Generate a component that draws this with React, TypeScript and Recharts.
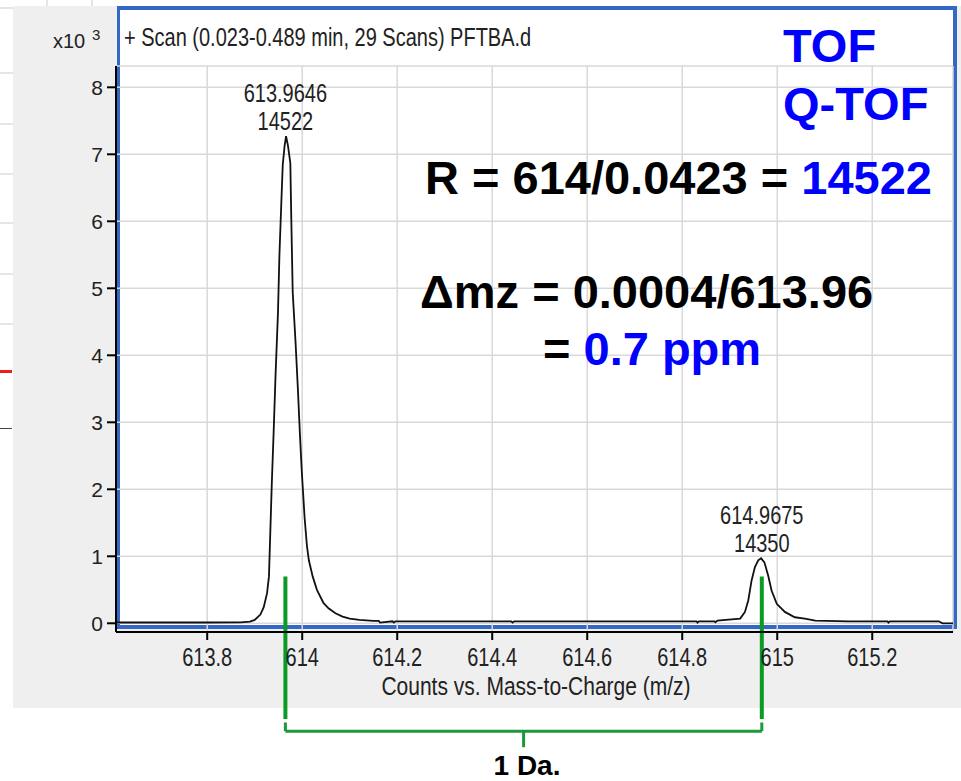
import React from 'react';
import { LineChart, Line, XAxis, YAxis, CartesianGrid, ReferenceLine, ReferenceDot } from 'recharts';

// profile spectrum, m/z vs counts (x10^3)
const mz = [
  613.608, 613.7, 613.8, 613.87, 613.89, 613.9, 613.912, 613.919, 613.926, 613.93,
  613.933, 613.936, 613.94, 613.944, 613.949, 613.952, 613.956, 613.959, 613.963, 613.966,
  613.97, 613.975, 613.977, 613.98, 613.986, 613.991, 613.995, 613.999, 614.005, 614.01,
  614.014, 614.022, 614.031, 614.045, 614.056, 614.07, 614.085, 614.1, 614.12, 614.15,
  614.161, 614.164, 614.19, 614.193, 614.196, 614.3, 614.44, 614.443, 614.446, 614.6,
  614.83, 614.832, 614.835, 614.868, 614.87, 614.874, 614.922, 614.932, 614.939, 614.946,
  614.953, 614.96, 614.966, 614.973, 614.981, 614.988, 614.999, 615.016, 615.037, 615.058,
  615.08, 615.15, 615.232, 615.234, 615.237, 615.34, 615.348, 615.37,
];
const countsK = [
  0.012, 0.012, 0.012, 0.013, 0.025, 0.05, 0.13, 0.24, 0.45, 0.7,
  1.4, 2.09, 2.88, 3.73, 4.64, 5.49, 6.27, 6.84, 7.13, 7.27,
  7.13, 6.87, 6.04, 4.94, 4.19, 3.48, 2.85, 2.28, 1.58, 1.15,
  0.94, 0.7, 0.5, 0.3, 0.22, 0.15, 0.1, 0.07, 0.05, 0.035,
  0.035, 0.01, 0.03, 0.01, 0.03, 0.03, 0.03, 0.01, 0.03, 0.03,
  0.03, 0.01, 0.03, 0.03, 0.015, 0.04, 0.07, 0.17, 0.34, 0.64,
  0.84, 0.94, 0.97, 0.91, 0.71, 0.49, 0.29, 0.17, 0.09, 0.07,
  0.04, 0.03, 0.03, 0.01, 0.03, 0.03, 0.0, 0.0,
];

const xTicks = [613.8, 614, 614.2, 614.4, 614.6, 614.8, 615, 615.2];
const yTicks = [0, 1, 2, 3, 4, 5, 6, 7, 8];

const peakMz = [613.9646, 614.9675];
const peakTop = [7.27, 0.97];
const peakRes = [14522, 14350];

const data = mz.map((m, i) => ({ mz: m, k: countsK[i] }));

const SANS = "'Liberation Sans', Arial, sans-serif";
const INK = '#222';
const BLUE = '#0000ff';
const GREEN = '#0b9a24';

// the screenshot text is stretched vertically, so draw it 1.25x tall
function Tall({ x, y, anchor = 'start', size = 20, children }: any) {
  return (
    <g transform={`translate(${x},${y}) scale(1,1.25)`}>
      <text x={0} y={0} textAnchor={anchor} fontFamily={SANS} fontSize={size} fill={INK}>{children}</text>
    </g>
  );
}

function XTick(props: any) {
  const { x, y, payload } = props;
  return <Tall x={x} y={y + 24} anchor="middle">{`${Math.round(payload.value * 10) / 10}`}</Tall>;
}

function PeakLabel(props: any) {
  const { viewBox, mzText, res } = props;
  return (
    <g>
      <Tall x={viewBox.x} y={viewBox.y - 34} anchor="middle">{mzText}</Tall>
      <Tall x={viewBox.x} y={viewBox.y - 6} anchor="middle">{res}</Tall>
    </g>
  );
}

const stripLines = [7, 72, 123, 173, 222, 273, 323];

export default function App() {
  const mid = (peakMz[0] + peakMz[1]) / 2;
  return (
    <div style={{ position: 'relative', width: 961, height: 781, background: '#fff', overflow: 'hidden' }}>
      <style>{'body{margin:0}'}</style>
      {stripLines.map((y) => (
        <div key={y} style={{ position: 'absolute', left: 0, top: y, width: 13, height: 2, background: '#e6e6e6' }} />
      ))}
      <div style={{ position: 'absolute', left: 46, top: 0, width: 2, height: 6, background: '#e6e6e6' }} />
      <div style={{ position: 'absolute', left: 91, top: 0, width: 2, height: 6, background: '#e6e6e6' }} />
      <div style={{ position: 'absolute', left: 0, top: 370, width: 12, height: 3, background: '#e8201c' }} />
      <div style={{ position: 'absolute', left: 0, top: 428, width: 12, height: 1, background: '#444' }} />

      {/* instrument window */}
      <div style={{ position: 'absolute', left: 13, top: 6, width: 948, height: 702, background: '#efefef' }} />
      <div style={{ position: 'absolute', left: 117, top: 6, width: 840, height: 623, boxSizing: 'border-box', border: '4px solid #3568c6', borderLeftWidth: 3, background: '#fff' }} />

      <div style={{ position: 'absolute', left: 0, top: 0 }}>
        <LineChart width={961} height={781} data={data} margin={{ top: 66, right: 8, bottom: 109, left: 56 }}>
          <CartesianGrid stroke="#d9d9d9" strokeWidth={1.5} />
          <XAxis
            dataKey="mz"
            type="number"
            domain={[613.608, 615.37]}
            ticks={xTicks}
            allowDataOverflow
            height={40}
            stroke="#000"
            strokeWidth={2}
            tickSize={8}
            tickMargin={2}
            tick={<XTick />}
          />
          <YAxis
            type="number"
            domain={[-0.13, 8.318]}
            ticks={yTicks}
            allowDataOverflow
            width={60}
            stroke="#000"
            strokeWidth={2}
            tickSize={9}
            tickMargin={4}
            tick={{ fontFamily: SANS, fontSize: 21, fill: INK }}
          />
          <Line dataKey="k" type="linear" stroke="#111" strokeWidth={1.8} dot={false} isAnimationActive={false} />
          {peakMz.map((m, i) => (
            <ReferenceDot
              key={m}
              x={m}
              y={peakTop[i]}
              r={0}
              fill="none"
              stroke="none"
              ifOverflow="visible"
              label={<PeakLabel mzText={m.toFixed(4)} res={peakRes[i]} />}
            />
          ))}
          {/* 1 Da. bracket between the two isotope peaks */}
          {peakMz.map((m) => (
            <ReferenceLine
              key={'v' + m}
              segment={[{ x: m, y: 0.7 }, { x: m, y: -1.43 }]}
              stroke={GREEN}
              strokeWidth={4}
              ifOverflow="visible"
            />
          ))}
          {peakMz.map((m) => (
            <ReferenceLine
              key={'c' + m}
              segment={[{ x: m, y: -1.48 }, { x: m, y: -1.61 }]}
              stroke="#1a9a3a"
              strokeWidth={3}
              ifOverflow="visible"
            />
          ))}
          <ReferenceLine
            segment={[{ x: peakMz[0], y: -1.61 }, { x: peakMz[1], y: -1.61 }]}
            stroke="#1a9a3a"
            strokeWidth={3}
            ifOverflow="visible"
          />
          <ReferenceLine
            segment={[{ x: mid, y: -1.61 }, { x: mid, y: -1.85 }]}
            stroke="#1a9a3a"
            strokeWidth={3}
            ifOverflow="visible"
          />
        </LineChart>
      </div>

      <svg width={961} height={781} style={{ position: 'absolute', left: 0, top: 0, pointerEvents: 'none' }}>
        <text x={53} y={48} fontFamily={SANS} fontSize={20} fill={INK}>x10</text>
        <text x={92} y={40} fontFamily={SANS} fontSize={15} fill={INK}>3</text>
        <Tall x={124} y={46}>+ Scan (0.023-0.489 min, 29 Scans) PFTBA.d</Tall>
        <Tall x={536} y={695} anchor="middle" size={21}>Counts vs. Mass-to-Charge (m/z)</Tall>

        <g fontFamily={SANS} fontWeight="bold" fontSize={47}>
          <text x={783} y={62} fill={BLUE}>TOF</text>
          <text x={783} y={120} fill={BLUE}>Q-TOF</text>
          <text x={425} y={194} fill="#000">R = 614/0.0423 = <tspan fill={BLUE}>14522</tspan></text>
          <text x={420} y={308} fill="#000">Δmz = 0.0004/613.96</text>
          <text x={543} y={365} fill="#000">= <tspan fill={BLUE}>0.7 ppm</tspan></text>
        </g>
        <text x={527} y={775} textAnchor="middle" fontFamily={SANS} fontWeight="bold" fontSize={28} fill="#000">1 Da.</text>
      </svg>
    </div>
  );
}
